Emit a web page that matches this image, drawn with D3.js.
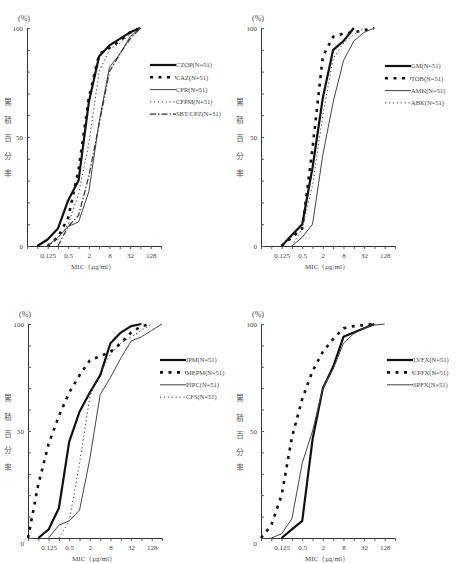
<!DOCTYPE html>
<html><head><meta charset="utf-8">
<script src="https://cdn.jsdelivr.net/npm/d3@7"></script>
<style>body{margin:0;background:#fff}svg{display:block}</style>
</head><body>
<svg id="c" width="456" height="563"></svg>
<script>
// ---------- data ----------
const xTickValues = [0.125, 0.5, 2, 8, 32, 128];
const xTickLabels = ["0.125", "0.5", "2", "8", "32", "128"];
const xMinorTicks = [0.03125,0.0625,0.125,0.25,0.5,1,2,4,8,16,32,64,128,256];
const yTickValues = [0,10,20,30,40,50,60,70,80,90,100];
const yTickLabels = [0, 50, 100];
const yTitleChars = ["累","積","百","分","率"];
const nLabel = "(N=51)";

// panel 1
const czopMic = [0.0625,0.125,0.25,0.5,1,2,4,8,16,32,64];
const czopPct = [0,3,8,21,30,66,87,92,95,98,100];
const cazMic  = [0.125,0.25,0.5,1,2,4,8,16,32,64];
const cazPct  = [0,4,13,35,68,88,91,94,98,100];
const cprMic  = [0.125,0.25,0.5,1,2,4,8,16,32,64];
const cprPct  = [0,4,9,11,25,57,82,88,96,100];
const cfpmMic = [0.125,0.25,0.5,1,2,4,8,16,32,64];
const cfpmPct = [0,3,10,24,47,80,90,93,97,100];
const sbtMic  = [0.25,0.5,1,2,4,8,16,32,64];
const sbtPct  = [0,9,14,32,56,80,88,95,100];
// panel 2
const gmMic  = [0.125,0.25,0.5,1,2,4,8,16];
const gmPct  = [0,5,10,36,68,90,94,100];
const tobMic = [0.125,0.25,0.5,1,2,4,8,16,32,64];
const tobPct = [0,4,8,45,87,96,97.5,98,99,100];
const amkMic = [0.25,0.5,1,2,4,8,16,32,64];
const amkPct = [0,4,10,42,66,85,94,98,100];
const abkMic = [0.25,0.5,1,2,4,8,16,32];
const abkPct = [0,8,28,60,86,93,97,100];
// panel 3
const ipmMic  = [0.0625,0.125,0.25,0.5,1,2,4,8,16,32,64];
const ipmPct  = [0,4,14,45,59,68,76,91,96,99,100];
const mepmMic = [0.03125,0.0625,0.125,0.25,0.5,1,2,4,8,16,32,64,128];
const mepmPct = [0,25,44,57,68,76,83,85,87,91,96,99,100];
const pipcMic = [0.125,0.25,0.5,1,2,4,8,16,32,64,128,256];
const pipcPct = [0,6,8,13,37,67,75,84,92,94,97,100];
const cfsMic  = [0.25,0.5,1,2,4,8,16,32,64,128];
const cfsPct  = [0,8,35,66,77,86,91,94,97,100];
// panel 4
const lvfxMic = [0.125,0.25,0.5,1,2,4,8,16,32,64];
const lvfxPct = [0,4,8,46,70,80,94,96,98,100];
const cpfxMic = [0.03125,0.0625,0.125,0.25,0.5,1,2,4,8,16,32,64];
const cpfxPct = [0,6,20,47,65,78,87,93,98,99,99.5,100];
const spfxMic = [0.0625,0.125,0.25,0.5,1,2,4,8,16,32,64,128];
const spfxPct = [0,2,9,35,50,70,79,91,95.5,98,99.5,100];

// ---------- styles / layout ----------
const styles = {
  thick:   {stroke:"#111", width:2.2, dash:null},
  dash:    {stroke:"#111", width:2.6, dash:"3,5.5"},
  thin:    {stroke:"#444", width:1,   dash:null},
  dot:     {stroke:"#444", width:1,   dash:"1.3,2.6"},
  dashdot: {stroke:"#333", width:1.2, dash:"6,2,1.5,2"}
};

const panels = [
  {x0:27, x1:161, y0:246, y1:28, lx:150, ly:65, ls:12.3, yTitleX:8, yTitleY:[102,120,138,156,173], zeroDy:0,
   series:[["CZOP",czopMic,czopPct,"thick"],["CAZ",cazMic,cazPct,"dash"],["CPR",cprMic,cprPct,"thin"],["CFPM",cfpmMic,cfpmPct,"dot"],["SBT/CPZ",sbtMic,sbtPct,"dashdot"]]},
  {x0:261, x1:395, y0:246, y1:28, lx:385, ly:66, ls:12.3, yTitleX:240, yTitleY:[102,120,138,156,173], zeroDy:0,
   series:[["GM",gmMic,gmPct,"thick"],["TOB",tobMic,tobPct,"dash"],["AMK",amkMic,amkPct,"thin"],["ABK",abkMic,abkPct,"dot"]]},
  {x0:28, x1:162, y0:538, y1:324, lx:160, ly:360, ls:12.4, yTitleX:8, yTitleY:[398,417,434,450,467], zeroDy:5,
   series:[["IPM",ipmMic,ipmPct,"thick"],["MEPM",mepmMic,mepmPct,"dash"],["PIPC",pipcMic,pipcPct,"thin"],["CFS",cfsMic,cfsPct,"dot"]]},
  {x0:261, x1:395, y0:538, y1:324, lx:387, ly:360, ls:12.4, yTitleX:240, yTitleY:[398,418,435,452,467], zeroDy:5,
   series:[["LVFX",lvfxMic,lvfxPct,"thick"],["CPFX",cpfxMic,cpfxPct,"dash"],["SPFX",spfxMic,spfxPct,"thin"]]}
];

const svg = d3.select("#c");
const latin = "'Liberation Serif', 'DejaVu Serif', serif";
const cjk = "'Noto Sans CJK JP', 'Noto Sans CJK SC', sans-serif";

panels.forEach(p => {
  const g = svg.append("g");
  const x = d3.scaleLog().base(2).domain([1/32, 256]).range([p.x0, p.x1]);
  const y = d3.scaleLinear().domain([0, 100]).range([p.y0, p.y1]);

  // x axis
  const xa = g.append("g").attr("transform", `translate(0,${p.y0})`)
    .call(d3.axisBottom(x).tickValues(xMinorTicks).tickSize(3).tickSizeOuter(0).tickPadding(4)
      .tickFormat(v => { const i = xTickValues.indexOf(v); return i >= 0 ? xTickLabels[i] : ""; }));
  xa.select(".domain").attr("stroke", "#333");
  xa.selectAll(".tick line").attr("stroke", "#555");
  xa.selectAll("text").attr("font-family", latin).attr("font-size", 7).attr("fill", "#444");

  // y axis
  const ya = g.append("g").attr("transform", `translate(${p.x0},0)`)
    .call(d3.axisLeft(y).tickValues(yTickValues).tickSize(-3).tickSizeOuter(0).tickPadding(4)
      .tickFormat(v => yTickLabels.includes(v) ? String(v) : ""));
  ya.select(".domain").attr("stroke", "#333");
  ya.selectAll(".tick line").attr("stroke", "#555");
  ya.selectAll("text").attr("font-family", latin).attr("font-size", 7).attr("fill", "#444");
  ya.selectAll(".tick").filter(d => d === 0).select("text").attr("y", p.zeroDy);

  // (%)
  g.append("text").attr("x", p.x0 - 3).attr("y", p.y1 - 7).attr("text-anchor", "middle")
    .attr("font-family", latin).attr("font-size", 8).attr("fill", "#444").text("(%)");

  // y title
  yTitleChars.forEach((ch, i) => {
    g.append("text").attr("x", p.yTitleX).attr("y", p.yTitleY[i]).attr("dy", "0.35em")
      .attr("text-anchor", "middle").attr("font-family", cjk).attr("font-size", 7.5).attr("fill", "#555").text(ch);
  });

  // x title
  g.append("text").attr("x", (p.x0 + p.x1) / 2 - 1).attr("y", p.y0 + 21).attr("dy", "0.35em")
    .attr("text-anchor", "middle").attr("font-family", latin).attr("font-size", 7).attr("fill", "#444")
    .text("MIC（μg/ml）");

  // lines
  const line = d3.line().x(d => x(d[0])).y(d => y(d[1]));
  p.series.forEach(([name, mic, pct, st]) => {
    const s = styles[st];
    g.append("path").datum(mic.map((m, i) => [m, pct[i]]))
      .attr("d", line).attr("fill", "none").attr("stroke", s.stroke).attr("stroke-width", s.width)
      .attr("stroke-dasharray", s.dash).attr("stroke-linejoin", "round");
  });

  // legend
  p.series.forEach(([name, mic, pct, st], i) => {
    const s = styles[st];
    const ly = p.ly + i * p.ls;
    g.append("line").attr("x1", p.lx).attr("x2", p.lx + 26).attr("y1", ly).attr("y2", ly)
      .attr("stroke", s.stroke).attr("stroke-width", s.width).attr("stroke-dasharray", s.dash);
    g.append("text").attr("x", p.lx + 26).attr("y", ly).attr("dy", "0.35em")
      .attr("font-family", latin).attr("font-size", 6.5).attr("fill", "#444").text(name + nLabel);
  });
});
</script>
</body></html>
